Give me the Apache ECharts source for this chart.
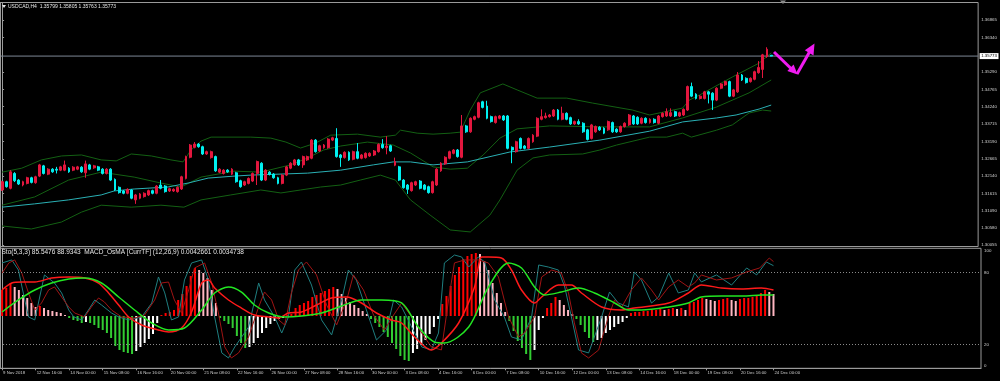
<!DOCTYPE html>
<html><head><meta charset="utf-8">
<script src="https://cdn.jsdelivr.net/npm/echarts@6/dist/echarts.min.js"></script>
<style>html,body{margin:0;padding:0;background:#000;}#c{width:1000px;height:381px;}</style>
</head><body><div id="c"></div><script>
const symbolName = 'USDCAD,H4';
const indicatorLegend = 'Sto(5,3,3) 85.5476 88.9343  MACD_OsMA [CurrTF] (12,26,9) 0.0042661 0.0034738';
const timeLabels = ['9 Nov 2018','12 Nov 16:00','14 Nov 00:00','15 Nov 08:00','16 Nov 16:00','20 Nov 00:00','21 Nov 08:00','22 Nov 16:00','26 Nov 00:00','27 Nov 08:00','28 Nov 16:00','30 Nov 00:00','3 Dec 08:00','4 Dec 16:00','6 Dec 00:00','7 Dec 08:00','10 Dec 16:00','12 Dec 00:00','13 Dec 08:00','14 Dec 16:00','18 Dec 00:00','19 Dec 08:00','20 Dec 16:00','24 Dec 00:00'];
const priceTicks = [1.30055,1.30580,1.31090,1.31615,1.32140,1.32665,1.33190,1.33715,1.34240,1.34765,1.35290,1.36340,1.36865];
const bidPrice = 1.35773;
const stochLevels = [0,20,80,100];
const stochDotted = [20,80];
// [open, close, low, high]
const candles = [
[1.3172,1.3197,1.3169,1.3200],[1.3197,1.3182,1.3179,1.3200],[1.3177,1.3227,1.3174,1.3232],[1.3222,1.3200,1.3196,1.3226],[1.3202,1.3190,1.3187,1.3205],
[1.3187,1.3197,1.3183,1.3200],[1.3192,1.3209,1.3189,1.3212],[1.3209,1.3195,1.3192,1.3212],[1.3194,1.3212,1.3191,1.3215],[1.3214,1.3248,1.3211,1.3251],
[1.3245,1.3222,1.3219,1.3248],[1.3220,1.3235,1.3217,1.3238],[1.3235,1.3227,1.3224,1.3238],[1.3235,1.3232,1.3222,1.3242],[1.3232,1.3242,1.3229,1.3245],
[1.3232,1.3248,1.3229,1.3261],[1.3238,1.3227,1.3224,1.3241],[1.3232,1.3241,1.3229,1.3244],[1.3235,1.3242,1.3232,1.3245],[1.3241,1.3227,1.3224,1.3244],
[1.3224,1.3251,1.3209,1.3261],[1.3248,1.3235,1.3232,1.3251],[1.3239,1.3245,1.3236,1.3248],[1.3242,1.3232,1.3229,1.3245],[1.3235,1.3222,1.3219,1.3238],
[1.3222,1.3235,1.3219,1.3238],[1.3235,1.3202,1.3199,1.3238],[1.3204,1.3172,1.3169,1.3207],[1.3180,1.3164,1.3161,1.3183],[1.3169,1.3162,1.3159,1.3172],
[1.3162,1.3174,1.3159,1.3177],[1.3172,1.3147,1.3144,1.3175],[1.3142,1.3157,1.3130,1.3160],[1.3147,1.3160,1.3144,1.3163],[1.3152,1.3162,1.3149,1.3165],
[1.3157,1.3170,1.3154,1.3173],[1.3170,1.3162,1.3159,1.3173],[1.3162,1.3184,1.3159,1.3187],[1.3187,1.3177,1.3174,1.3202],[1.3184,1.3167,1.3164,1.3187],
[1.3169,1.3176,1.3166,1.3179],[1.3169,1.3174,1.3166,1.3177],[1.3167,1.3180,1.3164,1.3183],[1.3175,1.3212,1.3172,1.3215],[1.3207,1.3273,1.3204,1.3276],
[1.3271,1.3308,1.3268,1.3311],[1.3301,1.3311,1.3298,1.3317],[1.3311,1.3303,1.3300,1.3314],[1.3303,1.3281,1.3278,1.3306],[1.3281,1.3288,1.3278,1.3291],
[1.3270,1.3288,1.3267,1.3291],[1.3273,1.3230,1.3227,1.3276],[1.3226,1.3235,1.3223,1.3238],[1.3222,1.3232,1.3219,1.3235],[1.3232,1.3227,1.3224,1.3235],
[1.3220,1.3235,1.3217,1.3238],[1.3224,1.3197,1.3194,1.3227],[1.3200,1.3182,1.3179,1.3203],[1.3187,1.3197,1.3184,1.3200],[1.3192,1.3207,1.3189,1.3210],
[1.3199,1.3222,1.3196,1.3225],[1.3222,1.3258,1.3187,1.3261],[1.3253,1.3202,1.3199,1.3256],[1.3202,1.3232,1.3199,1.3235],[1.3226,1.3219,1.3216,1.3229],
[1.3220,1.3209,1.3206,1.3223],[1.3209,1.3192,1.3189,1.3212],[1.3192,1.3217,1.3189,1.3220],[1.3217,1.3242,1.3214,1.3245],[1.3238,1.3253,1.3235,1.3256],
[1.3248,1.3263,1.3245,1.3266],[1.3263,1.3248,1.3245,1.3266],[1.3248,1.3273,1.3239,1.3276],[1.3263,1.3273,1.3260,1.3276],[1.3268,1.3323,1.3265,1.3326],
[1.3323,1.3288,1.3285,1.3326],[1.3290,1.3306,1.3287,1.3309],[1.3300,1.3308,1.3297,1.3311],[1.3300,1.3326,1.3297,1.3329],[1.3323,1.3330,1.3320,1.3333],
[1.3328,1.3273,1.3270,1.3359],[1.3278,1.3270,1.3242,1.3281],[1.3270,1.3286,1.3267,1.3289],[1.3286,1.3263,1.3260,1.3289],[1.3265,1.3288,1.3262,1.3291],
[1.3288,1.3268,1.3265,1.3314],[1.3268,1.3278,1.3265,1.3281],[1.3270,1.3283,1.3267,1.3286],[1.3275,1.3283,1.3272,1.3286],[1.3278,1.3290,1.3275,1.3293],
[1.3288,1.3310,1.3285,1.3313],[1.3310,1.3300,1.3297,1.3326],[1.3300,1.3305,1.3280,1.3335],[1.3306,1.3290,1.3287,1.3309],[1.3247,1.3258,1.3244,1.3270],
[1.3242,1.3202,1.3199,1.3245],[1.3202,1.3179,1.3176,1.3205],[1.3187,1.3174,1.3160,1.3190],[1.3170,1.3194,1.3167,1.3197],[1.3187,1.3197,1.3184,1.3200],
[1.3199,1.3177,1.3174,1.3202],[1.3187,1.3174,1.3171,1.3190],[1.3182,1.3164,1.3161,1.3185],[1.3164,1.3197,1.3161,1.3200],[1.3187,1.3235,1.3184,1.3238],
[1.3230,1.3253,1.3227,1.3256],[1.3251,1.3271,1.3248,1.3274],[1.3268,1.3288,1.3265,1.3291],[1.3283,1.3293,1.3280,1.3296],[1.3293,1.3273,1.3270,1.3296],
[1.3271,1.3366,1.3268,1.3399],[1.3366,1.3348,1.3345,1.3369],[1.3348,1.3389,1.3345,1.3392],[1.3386,1.3394,1.3383,1.3397],[1.3392,1.3436,1.3389,1.3439],
[1.3439,1.3422,1.3419,1.3442],[1.3426,1.3389,1.3386,1.3442],[1.3394,1.3379,1.3376,1.3397],[1.3376,1.3394,1.3373,1.3397],[1.3389,1.3396,1.3386,1.3399],
[1.3396,1.3384,1.3381,1.3399],[1.3396,1.3298,1.3295,1.3399],[1.3301,1.3293,1.3253,1.3304],[1.3288,1.3318,1.3285,1.3321],[1.3328,1.3298,1.3295,1.3331],
[1.3305,1.3298,1.3295,1.3308],[1.3298,1.3328,1.3295,1.3331],[1.3318,1.3338,1.3315,1.3341],[1.3335,1.3389,1.3332,1.3392],[1.3386,1.3394,1.3383,1.3416],
[1.3391,1.3396,1.3388,1.3406],[1.3394,1.3399,1.3391,1.3402],[1.3396,1.3414,1.3393,1.3417],[1.3414,1.3386,1.3383,1.3417],[1.3386,1.3404,1.3383,1.3424],
[1.3404,1.3386,1.3383,1.3407],[1.3391,1.3372,1.3369,1.3394],[1.3372,1.3379,1.3369,1.3382],[1.3379,1.3372,1.3369,1.3386],[1.3374,1.3348,1.3345,1.3377],
[1.3354,1.3325,1.3322,1.3357],[1.3328,1.3369,1.3325,1.3372],[1.3348,1.3364,1.3345,1.3367],[1.3362,1.3354,1.3351,1.3365],[1.3359,1.3344,1.3341,1.3362],
[1.3354,1.3379,1.3351,1.3382],[1.3376,1.3348,1.3345,1.3379],[1.3356,1.3348,1.3345,1.3359],[1.3348,1.3364,1.3345,1.3367],[1.3364,1.3374,1.3361,1.3377],
[1.3369,1.3399,1.3366,1.3402],[1.3396,1.3372,1.3369,1.3399],[1.3392,1.3372,1.3369,1.3395],[1.3374,1.3389,1.3371,1.3392],[1.3389,1.3376,1.3373,1.3392],
[1.3376,1.3386,1.3373,1.3389],[1.3386,1.3376,1.3373,1.3389],[1.3374,1.3396,1.3371,1.3399],[1.3394,1.3404,1.3391,1.3407],[1.3396,1.3409,1.3393,1.3419],
[1.3396,1.3406,1.3393,1.3419],[1.3409,1.3396,1.3393,1.3412],[1.3396,1.3406,1.3393,1.3409],[1.3399,1.3416,1.3396,1.3419],[1.3414,1.3485,1.3411,1.3488],
[1.3485,1.3456,1.3453,1.3497],[1.3462,1.3449,1.3446,1.3465],[1.3449,1.3456,1.3446,1.3459],[1.3449,1.3469,1.3446,1.3472],[1.3469,1.3462,1.3434,1.3472],
[1.3465,1.3444,1.3414,1.3468],[1.3444,1.3480,1.3441,1.3483],[1.3480,1.3493,1.3477,1.3496],[1.3490,1.3500,1.3487,1.3503],[1.3500,1.3456,1.3453,1.3503],
[1.3456,1.3475,1.3453,1.3478],[1.3469,1.3520,1.3466,1.3529],[1.3520,1.3505,1.3502,1.3523],[1.3510,1.3497,1.3494,1.3513],[1.3500,1.3510,1.3497,1.3513],
[1.3507,1.3530,1.3504,1.3533],[1.3527,1.3543,1.3524,1.3562],[1.3537,1.3581,1.3511,1.3584],[1.3576,1.3598,1.3572,1.3604],[1.35799,1.35773,1.35763,1.35805]
];
// indicator lines: [bar index, value]
const bbUpper = [[0,1.3226],[4.7,1.3238],[9.4,1.3263],[14.2,1.3275],[19,1.3278],[23.7,1.3263],[27.3,1.3260],[30.9,1.3281],[35.7,1.3275],[40.4,1.3263],[43.3,1.3257],[45.2,1.3293],[47.6,1.3320],[50,1.3332],[59.5,1.3332],[64.3,1.3329],[67.9,1.3317],[71.4,1.3299],[75,1.3314],[78.6,1.3338],[85,1.3341],[90.5,1.3332],[94.1,1.3338],[95.3,1.3353],[99.3,1.3344],[103.1,1.3341],[107.2,1.3344],[109.6,1.3347],[112,1.3414],[114.4,1.3466],[119.8,1.3493],[123.2,1.3475],[128,1.3450],[135.1,1.3450],[141.3,1.3435],[150.8,1.3414],[154.9,1.3399],[162.8,1.3420],[164.4,1.3444],[166.8,1.3459],[174.7,1.3514],[181.1,1.3556],[184,1.3587]];
const bbMiddle = [[0,1.3126],[7.8,1.3151],[15.9,1.3202],[23.7,1.3226],[31.6,1.3211],[38,1.3193],[42.8,1.3181],[47.6,1.3211],[55.5,1.3229],[61.9,1.3226],[69,1.3248],[73.1,1.3269],[76.9,1.3293],[81,1.3305],[87.4,1.3317],[93.6,1.3308],[97.7,1.3284],[103.1,1.3242],[107.2,1.3235],[111.3,1.3238],[115.1,1.3278],[119.1,1.3329],[123.2,1.3357],[131,1.3366],[143,1.3363],[154.9,1.3363],[162.8,1.3390],[170.9,1.3423],[178.7,1.3466],[184,1.3505]];
const bbLower = [[0,1.3063],[7,1.3054],[14.2,1.3075],[19,1.3105],[23.7,1.3126],[30.9,1.3120],[38,1.3126],[43.5,1.3120],[47.6,1.3142],[54.7,1.3157],[61.9,1.3172],[66.7,1.3163],[71.4,1.3172],[76.2,1.3181],[81,1.3187],[85.7,1.3202],[90.5,1.3217],[94.1,1.3202],[97.7,1.3142],[102.4,1.3096],[107.2,1.3051],[112,1.3045],[116.7,1.3096],[119.1,1.3142],[123.2,1.3232],[127,1.3269],[131,1.3278],[138.9,1.3281],[143,1.3293],[147,1.3308],[154.9,1.3332],[159,1.3332],[162.8,1.3344],[164.9,1.3332],[170.9,1.3353],[174.7,1.3369],[178.7,1.3405],[181.9,1.3414],[184,1.3411]];
const maLine = [[0,1.3120],[7.8,1.3130],[15.9,1.3142],[23.7,1.3157],[26.8,1.3169],[31.6,1.3175],[39.7,1.3181],[44.5,1.3193],[49.3,1.3208],[55.5,1.3214],[59.5,1.3217],[73.1,1.3223],[81,1.3232],[88.8,1.3248],[93.6,1.3257],[97.7,1.3257],[103.1,1.3248],[111.3,1.3257],[121.5,1.3287],[131,1.3302],[143,1.3323],[154.9,1.3350],[162.8,1.3378],[170.9,1.3390],[175.6,1.3399],[181.1,1.3417],[184,1.3429]];
const stochMain = [[0,87.8],[2.3,90.3],[3.9,81.9],[5.4,56.9],[6.3,42.8],[7.8,40.3],[10.1,77.8],[12.5,71.1],[14.2,62.8],[15.9,48.6],[17.1,42.8],[19,40.3],[20.6,48.6],[22.1,56.9],[23.7,52.8],[26.1,46.1],[27.8,42.8],[30.2,40.3],[33.3,42.8],[35.7,54.4],[37.3,76.1],[38.8,62.8],[40.4,40.3],[42.1,42.8],[43.5,73.6],[45.2,87.8],[47.6,90.3],[49.2,73.6],[50.7,42.8],[52.4,12.8],[54,8.6],[55.5,17.8],[58.8,34.4],[61.2,71.1],[62.6,56.9],[65,42.8],[66.7,29.4],[68.3,42.8],[69.8,81.9],[71.4,88.6],[73.8,69.4],[76.2,40.3],[78.6,27.8],[81,56.9],[82.6,81.9],[84.5,73.6],[86.9,48.6],[89.3,23.6],[91.7,31.9],[93.4,56.9],[95.3,51.1],[97.7,34.4],[100.1,17.8],[102.4,15.3],[104.1,29.4],[105.5,87.8],[107.9,94.4],[109.6,92.8],[111.3,84.4],[113.6,92.8],[115.1,88.6],[117.5,56.9],[119.8,42.8],[121.5,26.1],[123.9,23.6],[126.3,42.8],[128,86.1],[130.3,84.4],[132.7,81.9],[134.2,67.8],[135.8,42.8],[137.5,15.3],[139.9,12.8],[143,42.8],[144.9,63.6],[147,54.4],[149.4,51.1],[150.8,80.3],[152.5,73.6],[154.9,54.4],[156.6,59.4],[159,79.4],[161.3,62.8],[163.7,65.3],[165.2,79.4],[166.8,72],[170.4,77.8],[174,69.4],[177.6,83.6],[180,77.8],[182.3,88.6],[184,85.5]];
const stochSignal = [[0,79.4],[1.6,87.8],[3,90.3],[4.7,79.4],[6.3,62.8],[7.8,48.6],[9.4,54.4],[11.1,65.3],[12.5,67.8],[14.2,59.4],[15.9,51.1],[17.3,46.1],[19.7,42.8],[21.3,51.1],[23,58.6],[24.4,55.3],[26.1,48.6],[28.5,42.8],[31.6,41.9],[34,44.4],[36.4,56.9],[38,71.1],[39.7,71.9],[41.1,56.9],[42.8,46.1],[44.5,65.3],[45.9,83.6],[48.3,87.8],[50,71.1],[51.6,46.1],[53.1,17.8],[54.7,8.6],[56.4,12.8],[58.8,26.1],[61.2,51.1],[62.6,63.6],[64.3,56.9],[66,40.3],[67.4,36.1],[69,62.8],[70.7,81.9],[72.6,88.6],[75,77.8],[77.4,52.8],[79.8,36.1],[82.2,56.9],[83.8,77.8],[86.2,65.3],[88.6,44.4],[91.2,31.9],[93.4,44.4],[95.3,54.4],[97.7,42.8],[100.1,29.4],[102.4,17.8],[104.8,15.3],[106.5,56.9],[107.9,87.8],[110.3,90.3],[113.6,90.3],[116,87.8],[118.4,76.1],[120.8,42.8],[123.2,26.1],[124.6,29.4],[127,42.8],[128.7,76.1],[131.1,81.9],[133.4,79.4],[135.1,62.8],[136.5,37.8],[138.2,12.8],[139.9,8.6],[142.3,15.3],[144.6,42.8],[146.1,56.9],[147.8,51.1],[150.1,65.3],[152.5,75.3],[154.9,65.3],[156.6,56.9],[159,67.8],[161.3,73.6],[163.7,67.8],[165.2,71.1],[166.8,77.8],[170.4,73.6],[174,75.3],[177.6,80.3],[180.7,83.6],[183,91.9],[184,88.9]];
const macdMain = [[0,0.00427],[2.3,0.00542],[4.7,0.00559],[7.8,0.00559],[11.8,0.00624],[15.9,0.00641],[19.7,0.00624],[23,0.00542],[25.4,0.00378],[27.8,0.00181],[30.2,-0.00016],[33.3,-0.00148],[37.3,-0.0023],[39.7,-0.00263],[42.8,-0.00197],[45.2,0.00066],[47.6,0.00542],[49.2,0.00591],[50.7,0.0046],[54,0.00263],[57.1,0.00131],[60.2,0.00016],[63.6,-0.00016],[66,-0.00033],[68.3,0.00049],[71.4,0.00066],[75,0.00181],[78.6,0.00296],[82.2,0.00312],[85.7,0.00214],[89.3,0.00049],[92.9,-0.00066],[95.3,-0.00115],[98.4,-0.00345],[102.4,-0.00559],[104.8,-0.00444],[108.9,-0.00115],[112.7,0.00476],[114.4,0.00969],[116,0.00969],[119.1,0.00953],[121.5,0.00756],[123.9,0.00427],[127,0.00214],[128.7,0.00312],[132.7,0.00509],[135.8,0.00509],[138.2,0.00378],[143,0.00148],[147.7,0.00099],[150.8,0.00131],[159,0.00214],[163.7,0.00378],[166.8,0.00509],[171.6,0.0046],[176.4,0.00444],[181.1,0.0046],[184,0.00427]];
const macdSignal = [[0,0.00066],[3.9,0.00263],[7.8,0.00427],[11.8,0.00542],[15.9,0.00608],[19.7,0.00624],[23.7,0.00542],[27.8,0.00312],[31.6,0.00099],[35.7,-0.00115],[39.7,-0.0023],[43.5,-0.00197],[47.6,0.00099],[50.7,0.00378],[54,0.00476],[57.1,0.00394],[60.2,0.00181],[63.6,0.00049],[67.4,-0.00016],[71.4,0],[76.2,0.00049],[81,0.00164],[85.7,0.00263],[90.5,0.00263],[95.3,0.00214],[99.3,-0.00181],[103.1,-0.00427],[105.5,-0.00444],[111.3,-0.00181],[116,0.00476],[120.8,0.00871],[123.9,0.00789],[127,0.00476],[129.4,0.00345],[133.4,0.00394],[137.5,0.0046],[141.3,0.00378],[146.1,0.00214],[149.4,0.00099],[152.5,0.00099],[159,0.00148],[163.7,0.00214],[166.8,0.00312],[171.6,0.00329],[176.4,0.00329],[181.1,0.00345],[184,0.00347]];
// OsMA histogram (scaled units of the indicator window)
const osmaHist = [26,28,33,29,26,21,18,13,9,10, 8,6,5,4,3,1,-2,-4,-5,-7, -6,-7,-9,-12,-14,-17,-22,-30,-34,-36,
-37,-38,-35,-31,-27,-23,-18,-7,1,3, 4,6,16,22,30,40,48,46,43,38, 26,13,-2,-5,-8,-12,-20,-27,-32,-31,
-27,-22,-17,-12,-8,-5,-3,-2,1,2, 8,11,13,15,19,21,23,25,27,29, 27,22,18,14,11,8,5,2,-3,-7,
-11,-16,-21,-27,-33,-40,-44,-45,-37,-33, -29,-24,-18,-11,-3,12,20,30,41,49, 57,60,62,63,62,55,46,33,23,13,
4,-5,-15,-25,-32,-38,-44,-34,-14,-2, 8,13,19,16,11,6,2,-3,-9,-16, -22,-26,-24,-22,-17,-14,-11,-8,-6,-2,
3,4,4,5,5,6,6,7,6,7, 8,7,8,6,13,14,16,18,17,16, 15,16,17,18,16,15,17,18,18,19, 21,23,26,24,22];

const SLOTS = 234;
const categories = [];
for (let k = 0; k < SLOTS; k++) categories.push(k % 8 === 0 && timeLabels[k / 8] ? timeLabels[k / 8] : '');
const last = candles[candles.length - 1];
const titleText = symbolName + '  ' + [last[0], last[3], last[2], last[1]].map(v => v.toFixed(5)).join(' ');
const histData = osmaHist.map((v, i) => {
  const p = i > 0 ? osmaHist[i - 1] : v;
  let c;
  if (v >= 0) c = v >= p ? '#ff0000' : '#ffb6c1';
  else c = v <= p ? '#32cd32' : '#ffffff';
  return { value: v, itemStyle: { color: c } };
});

const FONT = 'Liberation Sans';
const GL = -1.6, GW = 982.6;
const chart = echarts.init(document.getElementById('c'), null, { renderer: 'canvas' });
const axisGray = '#9a9a9a';
chart.setOption({
  backgroundColor: '#000000',
  animation: false,
  grid: [
    { left: GL, top: 2.5, width: GW, height: 244, show: true, borderColor: axisGray, borderWidth: 1 },
    { left: GL, top: 248.3, width: GW, height: 120, show: true, borderColor: axisGray, borderWidth: 1 }
  ],
  xAxis: [
    { type: 'category', gridIndex: 0, data: categories, boundaryGap: true, show: false },
    { type: 'value', gridIndex: 0, min: -0.5, max: SLOTS - 0.5, show: false },
    { type: 'category', gridIndex: 1, data: categories, boundaryGap: true,
      axisLine: { show: true, lineStyle: { color: axisGray } },
      axisTick: { show: true, alignWithLabel: true, length: 2, interval: (i, v) => v !== '', lineStyle: { color: axisGray } },
      axisLabel: { interval: (i, v) => v !== '', align: 'left', margin: 2.5, color: '#cfcfcf', fontSize: 4.3, fontFamily: FONT, padding: [0, 0, 0, 1] },
      splitLine: { show: false } },
    { type: 'value', gridIndex: 1, min: -0.5, max: SLOTS - 0.5, show: false }
  ],
  yAxis: [
    { type: 'value', gridIndex: 0, position: 'right', min: 1.300095, max: 1.373947,
      axisLine: { show: true, lineStyle: { color: axisGray } },
      axisTick: { show: true, length: 2, customValues: priceTicks, lineStyle: { color: axisGray } },
      axisLabel: { customValues: priceTicks, formatter: v => v.toFixed(5), color: '#d0d0d0', fontSize: 4.4, fontFamily: FONT, margin: 3 },
      splitLine: { show: false } },
    { type: 'value', gridIndex: 1, position: 'right', min: 0, max: 100,
      axisLine: { show: true, lineStyle: { color: axisGray } },
      axisTick: { show: true, length: 2, customValues: stochLevels, lineStyle: { color: axisGray } },
      axisLabel: { customValues: stochLevels, color: '#d0d0d0', fontSize: 4.4, fontFamily: FONT, margin: 3,
        formatter: v => v === 100 ? '{t|100}' : (v === 0 ? '{b|0}' : String(v)),
        rich: { t: { fontSize: 4.4, fontFamily: FONT, color: '#d0d0d0', padding: [5, 0, 0, 0] }, b: { fontSize: 4.4, fontFamily: FONT, color: '#d0d0d0', padding: [0, 0, 5, 0] } } },
      splitLine: { show: false } },
    { type: 'value', gridIndex: 1, min: -0.008593, max: 0.011123, show: false },
    { type: 'value', gridIndex: 1, min: -52.3, max: 67.7, show: false }
  ],
  series: [
    { type: 'line', xAxisIndex: 1, yAxisIndex: 0, data: bbUpper, symbol: 'none', lineStyle: { color: '#136013', width: 1 }, z: 1 },
    { type: 'line', xAxisIndex: 1, yAxisIndex: 0, data: bbMiddle, symbol: 'none', lineStyle: { color: '#136013', width: 1 }, z: 1 },
    { type: 'line', xAxisIndex: 1, yAxisIndex: 0, data: bbLower, symbol: 'none', lineStyle: { color: '#136013', width: 1 }, z: 1 },
    { type: 'line', xAxisIndex: 1, yAxisIndex: 0, data: maLine, symbol: 'none', lineStyle: { color: '#2ab0b4', width: 1 }, z: 1 },
    { type: 'line', xAxisIndex: 1, yAxisIndex: 0, data: [[-0.5, bidPrice], [SLOTS - 0.5, bidPrice]], symbol: 'none', clip: false,
      lineStyle: { color: '#7d8796', width: 1 }, z: 2,
      endLabel: { show: true, distance: 1.5, formatter: () => bidPrice.toFixed(5), color: '#000', backgroundColor: '#ffffff', fontSize: 4.4, fontFamily: FONT, padding: [1, 1.5, 1, 1.5] } },
    { type: 'candlestick', xAxisIndex: 0, yAxisIndex: 0, data: candles, barWidth: 2.4, z: 3,
      itemStyle: { color: '#e3173e', color0: '#00f0f0', borderColor: '#e3173e', borderColor0: '#00f0f0', borderWidth: 1 } },
    { type: 'bar', xAxisIndex: 2, yAxisIndex: 3, data: histData, barWidth: 2, z: 1 },
    { type: 'line', xAxisIndex: 3, yAxisIndex: 1, data: stochMain, symbol: 'none', lineStyle: { color: '#1f7f80', width: 1 }, z: 2,
      markLine: { silent: true, symbol: 'none', animation: false, label: { show: false },
        lineStyle: { color: '#8a8a8a', width: 1, type: [1, 2] },
        data: stochDotted.map(v => ({ yAxis: v })) } },
    { type: 'line', xAxisIndex: 3, yAxisIndex: 1, data: stochSignal, symbol: 'none', lineStyle: { color: '#a01414', width: 1 }, z: 2 },
    { type: 'line', xAxisIndex: 3, yAxisIndex: 2, data: macdMain, symbol: 'none', smooth: 0.3, lineStyle: { color: '#ff1a1a', width: 1.5 }, z: 4 },
    { type: 'line', xAxisIndex: 3, yAxisIndex: 2, data: macdSignal, symbol: 'none', smooth: 0.3, lineStyle: { color: '#22e622', width: 1.5 }, z: 4 }
  ],
  graphic: [
    { type: 'line', shape: { x1: 0.5, y1: 2.5, x2: 0.5, y2: 368.3 }, style: { stroke: axisGray, lineWidth: 1 }, z: 10 },
    { type: 'polygon', shape: { points: [[2, 5], [6, 5], [4, 8]] }, style: { fill: '#e0e0e0' }, z: 10 },
    { type: 'polygon', shape: { points: [[780, 0.5], [786, 0.5], [783, 4]] }, style: { fill: '#8a8a8a' }, z: 10 },
    { type: 'text', x: 8, y: 6.7, style: { text: titleText, fill: '#e6e6e6', fontSize: 5, fontFamily: FONT, verticalAlign: 'middle' }, z: 10 },
    { type: 'text', x: 1.5, y: 252.5, style: { text: indicatorLegend, fill: '#e6e6e6', fontSize: 6.5, fontFamily: FONT, verticalAlign: 'middle' }, z: 10 },
    { type: 'polyline', shape: { points: [[774, 52], [792, 69.5]] }, style: { stroke: '#f01cf0', lineWidth: 3 }, z: 10 },
    { type: 'polygon', shape: { points: [[797.5, 74.5], [787.3, 71], [793.6, 64.5]] }, style: { fill: '#f01cf0' }, z: 10 },
    { type: 'polyline', shape: { points: [[797, 74], [809.5, 52]] }, style: { stroke: '#f01cf0', lineWidth: 3 }, z: 10 },
    { type: 'polygon', shape: { points: [[814.5, 43.5], [813.5, 55.5], [804.8, 50.3]] }, style: { fill: '#f01cf0' }, z: 10 }
  ]
});
</script></body></html>
